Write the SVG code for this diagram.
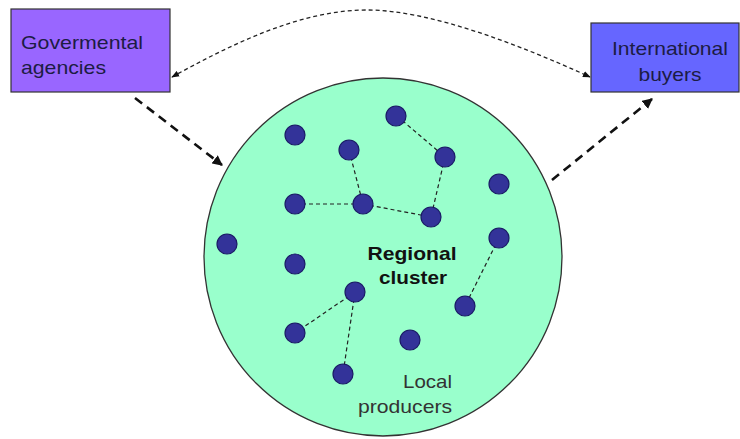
<svg xmlns="http://www.w3.org/2000/svg" width="740" height="439" viewBox="0 0 740 439">
<defs>
<style>
.box{stroke:#333;stroke-width:1.2}
.btxt{font-family:"Liberation Sans",Arial,sans-serif;font-size:19px;fill:#1c1c44}
.node{fill:#333399;stroke:#1a1a66;stroke-width:1.2}
.link{fill:none;stroke:#222;stroke-width:1.2;stroke-dasharray:4 3}
.thick{fill:none;stroke:#111;stroke-width:2.6;stroke-dasharray:9 6}
.thin{fill:none;stroke:#222;stroke-width:1.3;stroke-dasharray:4 3}
</style>
<marker id="ah" viewBox="0 0 10 10" refX="9" refY="5" markerWidth="4" markerHeight="4" orient="auto-start-reverse" markerUnits="strokeWidth">
<path d="M0,0 L10,5 L0,10 z" fill="#111"/>
</marker>
<marker id="ahs" viewBox="0 0 10 10" refX="9" refY="5" markerWidth="6" markerHeight="6" orient="auto-start-reverse" markerUnits="strokeWidth">
<path d="M0,1 L10,5 L0,9 z" fill="#111"/>
</marker>
</defs>
<rect width="740" height="439" fill="#fff"/>

<g id="cluster">
<circle cx="383" cy="257" r="179" fill="#99ffcc" stroke="#333" stroke-width="1.3"/>
<text x="412" y="260" text-anchor="middle" font-family="Liberation Sans,Arial,sans-serif" font-size="19" font-weight="bold" fill="#111" textLength="89" lengthAdjust="spacingAndGlyphs">Regional</text>
<text x="413" y="284" text-anchor="middle" font-family="Liberation Sans,Arial,sans-serif" font-size="19" font-weight="bold" fill="#111" textLength="68" lengthAdjust="spacingAndGlyphs">cluster</text>
<text x="452" y="388" text-anchor="end" font-family="Liberation Sans,Arial,sans-serif" font-size="19" fill="#333" textLength="49" lengthAdjust="spacingAndGlyphs">Local</text>
<text x="452" y="413" text-anchor="end" font-family="Liberation Sans,Arial,sans-serif" font-size="19" fill="#333" textLength="94" lengthAdjust="spacingAndGlyphs">producers</text>
</g>

<g id="connectors">
<path class="thin" d="M172,77 C230,45 300,10 367,10 C430,10 520,45 590,77" marker-start="url(#ahs)" marker-end="url(#ahs)"/>
<line class="thick" x1="135" y1="98" x2="222" y2="165" marker-end="url(#ah)"/>
<line class="thick" x1="552" y1="180" x2="652" y2="99" marker-end="url(#ah)"/>
<line class="link" x1="397" y1="116" x2="445" y2="157"/>
<line class="link" x1="349" y1="150" x2="363" y2="204"/>
<line class="link" x1="295" y1="204" x2="363" y2="204"/>
<line class="link" x1="363" y1="204" x2="431" y2="217"/>
<line class="link" x1="445" y1="157" x2="431" y2="217"/>
<line class="link" x1="499" y1="238" x2="465" y2="306"/>
<line class="link" x1="355" y1="292" x2="295" y2="333"/>
<line class="link" x1="355" y1="292" x2="343" y2="374"/>
</g>

<g id="producers">
<circle class="node" cx="396" cy="116" r="10"/>
<circle class="node" cx="295" cy="135" r="10"/>
<circle class="node" cx="349" cy="150" r="10"/>
<circle class="node" cx="445" cy="157" r="10"/>
<circle class="node" cx="499" cy="184" r="10"/>
<circle class="node" cx="295" cy="204" r="10"/>
<circle class="node" cx="363" cy="204" r="10"/>
<circle class="node" cx="431" cy="217" r="10"/>
<circle class="node" cx="227" cy="244" r="10"/>
<circle class="node" cx="499" cy="238" r="10"/>
<circle class="node" cx="295" cy="264" r="10"/>
<circle class="node" cx="355" cy="292" r="10"/>
<circle class="node" cx="465" cy="306" r="10"/>
<circle class="node" cx="295" cy="333" r="10"/>
<circle class="node" cx="410" cy="340" r="10"/>
<circle class="node" cx="343" cy="374" r="10"/>
</g>

<g id="gov">
<rect class="box" x="11" y="9" width="159" height="83" fill="#9966ff"/>
<text class="btxt" x="21" y="49" textLength="122" lengthAdjust="spacingAndGlyphs">Govermental</text>
<text class="btxt" x="21" y="74" textLength="85" lengthAdjust="spacingAndGlyphs">agencies</text>
</g>

<g id="buyers">
<rect class="box" x="591" y="23" width="148" height="69" fill="#6666ff"/>
<text class="btxt" x="670" y="55" text-anchor="middle" textLength="116" lengthAdjust="spacingAndGlyphs">International</text>
<text class="btxt" x="670" y="81" text-anchor="middle" textLength="63" lengthAdjust="spacingAndGlyphs">buyers</text>
</g>
</svg>
